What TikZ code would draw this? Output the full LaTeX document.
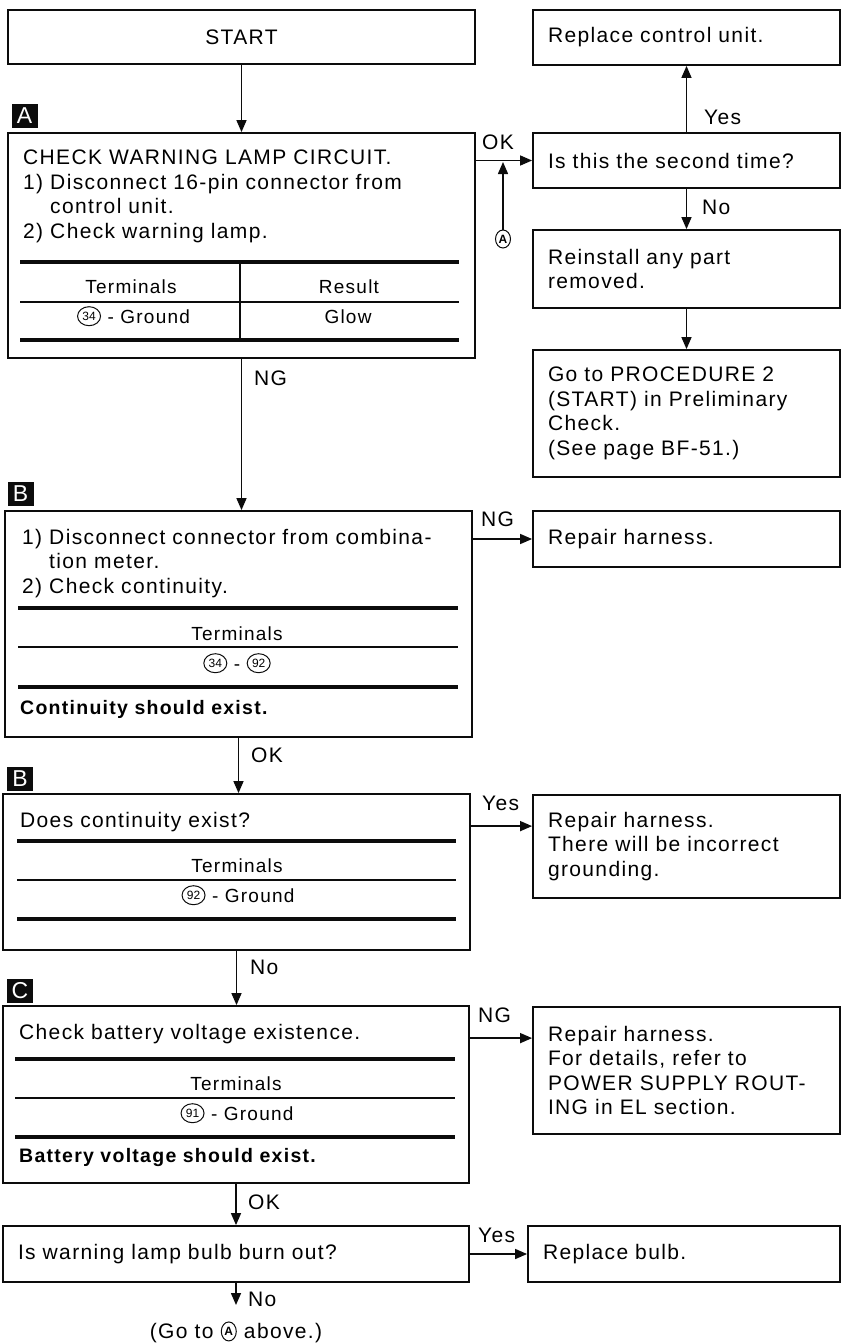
\documentclass[tikz,border=0pt]{standalone}
\usepackage{fontspec}
\setmainfont{Liberation Sans}[LetterSpace=6.5]
\usepackage{tikz}
\usetikzlibrary{arrows.meta,positioning,calc,shapes.geometric}
\definecolor{ink}{RGB}{12,12,12}
\newcommand{\mainsz}{\fontsize{21}{24.5}\selectfont}
\newcommand{\tblsz}{\fontsize{19}{22}\selectfont}
\newcommand{\notesz}{\fontsize{19.5}{22}\selectfont\bfseries}
\newcommand{\cnum}[2][]{\tikz[baseline={([yshift=-6.8pt]cn.center)}]\node[cnumring,#1] (cn) {#2};}
\tikzset{
  box/.style={draw=ink, line width=1.8pt, rectangle, inner sep=0pt, font=\mainsz},
  rbox/.style={box, align=left, text width=277pt, inner xsep=15pt, minimum width=307pt},
  txt/.style={inner sep=0pt, anchor=base west, align=left, text width=440pt, font=\mainsz},
  cell/.style={inner sep=0pt, anchor=base, font=\tblsz},
  lbl/.style={inner sep=0pt, anchor=west, font=\mainsz},
  tag/.style={fill=ink, text=white, inner sep=0pt, minimum width=26pt, minimum height=24pt,
              font=\fontsize{23}{23}\selectfont},
  thickrule/.style={ink, line width=3.6pt},
  thinrule/.style={ink, line width=1.2pt},
  flowarr/.style={-{Triangle[length=12pt,width=10pt]}, ink, line width=1.5pt},
  cnumring/.style={draw=ink, ellipse, line width=1pt, inner sep=0pt,
                   minimum width=23pt, minimum height=19pt,
                   font=\fontsize{12}{12}\selectfont\addfontfeatures{LetterSpace=0}},
}

\begin{document}
\begin{tikzpicture}[x=1pt, y=-1pt]
  \useasboundingbox (0,0) rectangle (842,1344);
  % start and step A
  \node[box, minimum width=467pt, minimum height=54pt] (start) at (241.5,37) {START};
  \node[tag] (tagA) at (24.5,116) {A};
  \node[box, minimum width=467pt, minimum height=225pt] (chkA) at (241.5,245.5) {};
  \node[txt] (chkAtxt) at (23,164.5) {CHECK WARNING LAMP CIRCUIT.\\
    1) Disconnect 16-pin connector from\\ \hphantom{1)~}control unit.\\ 2) Check warning lamp.};
  \foreach \y/\s in {262/thickrule, 302/thinrule, 340/thickrule}
    \draw[\s] (20,\y) -- (459,\y);
  \draw[thinrule] (240,262) -- (240,340);
  \node[cell] (tA1) at (131,293.5) {Terminals};
  \node[cell] (tA2) at (349,293.5) {Result};
  \node[cell] (tA3) at (133.5,323) {\cnum{34} - Ground};
  \node[cell] (tA4) at (348,323) {Glow};

  % right column, top
  \node[rbox, minimum height=55pt] (rcu) at (686.5,37.5) {Replace control unit.};
  \node[rbox, minimum height=55pt] (second) at (686.5,160.5) {Is this the second time?};
  \node[rbox, minimum height=78pt] (reinst) at (686.5,269) {Reinstall any part\\removed.};
  \node[rbox, minimum height=127pt] (goproc) at (686.5,413.5)
       {Go to PROCEDURE 2\\(START) in Preliminary\\Check.\\(See page BF-51.)};
  \node[cnumring, minimum width=15pt, minimum height=18pt,
        font=\fontsize{12}{12}\selectfont\bfseries] (cA) at (503,239) {A};
  \coordinate (okjoin) at (503,162);

  % step B
  \node[tag] (tagB) at (20.5,493.5) {B};
  \node[box, minimum width=467pt, minimum height=226pt] (chkB) at (238.5,624) {};
  \node[txt] (chkBtxt) at (22,544) {1) Disconnect connector from combina-\\
    \hphantom{1)~}tion meter.\\ 2) Check continuity.};
  \foreach \y/\s in {608/thickrule, 647/thinrule, 687/thickrule}
    \draw[\s] (18,\y) -- (458,\y);
  \node[cell] (tB1) at (237,640) {Terminals};
  \node[cell] (tB2) at (237,670) {\cnum{34} - \cnum{92}};
  \node[txt, font=\notesz] (noteB) at (20,714) {Continuity should exist.};
  \node[rbox, minimum height=56pt] (rh1) at (686.5,539) {Repair harness.};

  % step B, second check
  \node[tag] (tagB2) at (20,778.5) {B};
  \node[box, minimum width=467pt, minimum height=156pt] (chkB2) at (236.5,872) {};
  \node[txt] (chkB2txt) at (20,827) {Does continuity exist?};
  \foreach \y/\s in {841/thickrule, 880/thinrule, 919/thickrule}
    \draw[\s] (17,\y) -- (456,\y);
  \node[cell] (tC1) at (237,872) {Terminals};
  \node[cell] (tC2) at (238,902) {\cnum{92} - Ground};
  \node[rbox, minimum height=103pt] (rh2) at (686.5,846.5)
       {Repair harness.\\There will be incorrect\\grounding.};
  \coordinate (yesB) at ([yshift=-33pt]chkB2.north east);

  % step C
  \node[tag] (tagC) at (20,990.5) {C};
  \node[box, minimum width=466pt, minimum height=177pt] (chkC) at (236,1094.5) {};
  \node[txt] (chkCtxt) at (19,1039) {Check battery voltage existence.};
  \foreach \y/\s in {1059/thickrule, 1098/thinrule, 1137/thickrule}
    \draw[\s] (15,\y) -- (455,\y);
  \node[cell] (tD1) at (236,1090) {Terminals};
  \node[cell] (tD2) at (237,1120) {\cnum{91} - Ground};
  \node[txt, font=\notesz] (noteC) at (19,1162) {Battery voltage should exist.};
  \node[rbox, minimum height=127pt] (rh3) at (686.5,1070.5)
       {Repair harness.\\For details, refer to\\POWER SUPPLY ROUT-\\ING in EL section.};
  \coordinate (ngCstart) at ([yshift=-33pt]chkC.north east);

  % bulb check
  \node[box, minimum width=466pt, minimum height=56pt, align=left, text width=436pt,
        inner xsep=15pt] (bulbq) at (236,1254) {Is warning lamp bulb burn out?};
  \node[rbox, minimum height=56pt, text width=282pt, minimum width=312pt] (bulb) at (684,1254)
       {Replace bulb.};
  \coordinate (noend) at (236,1305);
  \node[inner sep=0pt, font=\mainsz] (goA) at (236,1332)
       {(Go to \cnum[minimum width=15pt, minimum height=19pt, font=\fontsize{12}{12}\selectfont\bfseries]{A} above.)};

  % connectors
  \draw[flowarr] (start.south) -- (chkA.north);
  \draw[flowarr] (chkA.south) -- (chkA.south |- chkB.north);
  \draw[flowarr] (chkB.south) -- (chkB.south |- chkB2.north);
  \draw[flowarr] (chkB2.south) -- (chkB2.south |- chkC.north);
  \draw[flowarr] (chkC.south) -- (bulbq.north);
  \draw[flowarr] (bulbq.south) -- (noend);
  \draw[flowarr] (second.west -| chkA.east) -- (second.west);
  \draw[flowarr] (cA.north) -- (okjoin);
  \draw[flowarr] (second.north) -- (rcu.south);
  \draw[flowarr] (second.south) -- (reinst.north);
  \draw[flowarr] (reinst.south) -- (goproc.north);
  \draw[flowarr] (rh1.west -| chkB.east) -- (rh1.west);
  \draw[flowarr] (yesB) -- (yesB -| rh2.west);
  \draw[flowarr] (ngCstart) -- (ngCstart -| rh3.west);
  \draw[flowarr] (bulb.west -| bulbq.east) -- (bulb.west);

  % branch labels
  \node[lbl] (okA) at (482,142) {OK};
  \node[lbl] (yes1) at (704,117) {Yes};
  \node[lbl] (no1) at (702,207) {No};
  \node[lbl] (ngA) at (254,378) {NG};
  \node[lbl] (ngB) at (481,519) {NG};
  \node[lbl] (okB) at (251,755) {OK};
  \node[lbl] (yesB2) at (482,803) {Yes};
  \node[lbl] (noB2) at (250,967) {No};
  \node[lbl] (ngC) at (478,1015) {NG};
  \node[lbl] (okC) at (248,1202) {OK};
  \node[lbl] (yesD) at (478,1235) {Yes};
  \node[lbl] (noD) at (248,1299) {No};
\end{tikzpicture}
\end{document}
